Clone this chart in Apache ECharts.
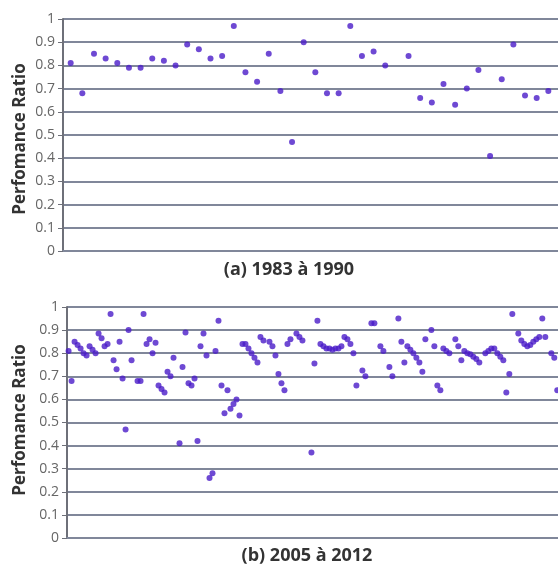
<!DOCTYPE html>
<html>
<head>
<meta charset="utf-8">
<script src="https://cdn.jsdelivr.net/npm/echarts@6/dist/echarts.min.js"></script>
<style>
  html, body { margin: 0; padding: 0; background: #fff; }
  #chart { width: 558px; height: 569px; }
</style>
</head>
<body>
<div id="chart"></div>
<script>
// performance ratio, one value per sample (null = no reading)
const ratioA = [
  0.81, 0.68, 0.85, 0.83, 0.81, 0.79, 0.79, 0.83, 0.82, 0.80,
  0.89, 0.87, 0.83, 0.84, 0.97, 0.77, 0.73, 0.85, 0.69, 0.47,
  0.90, 0.77, 0.68, 0.68, 0.97, 0.84, 0.86, 0.80, null, 0.84,
  0.66, 0.64, 0.72, 0.63, 0.70, 0.78, 0.41, 0.74, 0.89, 0.67,
  0.66, 0.69
];

const ratioB = [
  0.81, 0.68, 0.85, 0.835, 0.82, 0.80, 0.79, 0.83, 0.815, 0.80,
  0.885, 0.865, 0.83, 0.84, 0.97, 0.77, 0.73, 0.85, 0.69, 0.47,
  0.90, 0.77, null, 0.68, 0.68, 0.97, 0.84, 0.86, 0.80, 0.845,
  0.66, 0.645, 0.63, 0.72, 0.70, 0.78, null, 0.41, 0.74, 0.89,
  0.67, 0.66, 0.69, 0.42, 0.83, 0.885, 0.79, 0.26, 0.28, 0.81,
  0.94, 0.66, 0.54, 0.64, 0.56, 0.58, 0.60, 0.53, 0.84, 0.84,
  0.82, 0.80, 0.78, 0.76, 0.87, 0.855, null, 0.85, 0.83, 0.79,
  0.71, 0.67, 0.64, 0.84, 0.86, null, 0.885, 0.87, 0.855, null,
  null, 0.37, 0.755, 0.94, 0.84, 0.83, 0.82, 0.82, 0.815, 0.82,
  0.82, 0.83, 0.87, 0.86, 0.84, 0.80, 0.66, null, 0.725, 0.70,
  null, 0.93, 0.93, null, 0.83, 0.81, null, 0.74, 0.70, null,
  0.95, 0.85, 0.76, 0.83, 0.815, 0.80, 0.78, 0.76, 0.72, 0.86,
  null, 0.90, 0.83, 0.66, 0.64, 0.82, 0.81, 0.80, null, 0.86,
  0.83, 0.77, 0.81, 0.80, 0.795, 0.785, 0.775, 0.76, null, 0.80,
  0.81, 0.82, 0.82, 0.80, 0.785, 0.77, 0.63, 0.71, 0.97, null,
  0.885, 0.855, 0.84, 0.83, 0.835, 0.85, 0.86, 0.87, 0.95, 0.87,
  null, 0.80, 0.78, 0.64
];

const captions = ['(a) 1983 à 1990', '(b) 2005 à 2012'];
const yTitle = 'Perfomance Ratio';

const toPoints = arr => arr.map((v, i) => [i, v]).filter(p => p[1] != null);

const lineColor = '#80879a';
const axisColor = '#6E7079';

const chart = echarts.init(document.getElementById('chart'));

chart.setOption({
  animation: false,
  graphic: [
    { type: 'text', x: 20, y: 139, rotation: Math.PI / 2,
      style: { text: yTitle, fill: '#333', font: 'bold 17px "Open Sans"', align: 'center', verticalAlign: 'middle' } },
    { type: 'text', x: 20, y: 420, rotation: Math.PI / 2,
      style: { text: yTitle, fill: '#333', font: 'bold 17px "Open Sans"', align: 'center', verticalAlign: 'middle' } },
    { type: 'text', x: 289, y: 270,
      style: { text: captions[0], fill: '#333', font: 'bold 18px "Open Sans"', align: 'center', verticalAlign: 'middle' } },
    { type: 'text', x: 307, y: 556,
      style: { text: captions[1], fill: '#333', font: 'bold 18px "Open Sans"', align: 'center', verticalAlign: 'middle' } }
  ],
  grid: [
    { left: 63, top: 19, right: 0, height: 232 },
    { left: 67, top: 307, right: 0, height: 231 }
  ],
  xAxis: [
    { type: 'value', gridIndex: 0, min: -0.66, max: 41.83,
      axisLine: { show: true, onZero: false, lineStyle: { color: lineColor, width: 2 } },
      axisTick: { show: false }, axisLabel: { show: false }, splitLine: { show: false } },
    { type: 'value', gridIndex: 1, min: -0.53, max: 163.24,
      axisLine: { show: true, onZero: false, lineStyle: { color: lineColor, width: 2 } },
      axisTick: { show: false }, axisLabel: { show: false }, splitLine: { show: false } }
  ],
  yAxis: [0, 1].map(g => ({
    type: 'value', gridIndex: g, min: 0, max: 1, interval: 0.1,
    axisLine: { show: true, onZero: false, lineStyle: { color: axisColor, width: 2 } },
    axisTick: { show: true, length: 5, lineStyle: { color: axisColor } },
    axisLabel: { margin: 8, fontFamily: 'Open Sans', fontSize: 14, color: '#666666' },
    splitLine: { show: true, lineStyle: { color: lineColor, width: 2 } }
  })),
  series: [
    { type: 'scatter', xAxisIndex: 0, yAxisIndex: 0, data: toPoints(ratioA),
      symbolSize: 6, itemStyle: { color: '#4a1cc8' } },
    { type: 'scatter', xAxisIndex: 1, yAxisIndex: 1, data: toPoints(ratioB),
      symbolSize: 6, itemStyle: { color: '#4a1cc8' } }
  ]
});
</script>
</body>
</html>
